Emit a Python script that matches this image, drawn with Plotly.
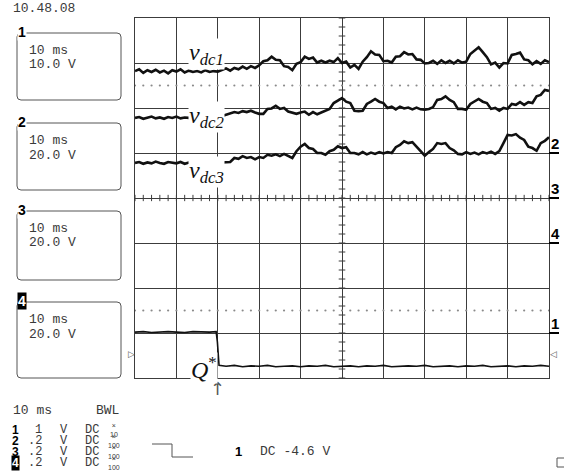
import plotly.graph_objects as go

W, H = 564, 475

# ---- acquisition data (screen divisions, 10 ms/div horizontally) ----
time_ms = list(range(0, 101))

vdc1 = [2.82, 2.86, 2.78, 2.84, 2.80, 2.85, 2.79, 2.83, 2.77, 2.84,
        2.81, 2.86, 2.79, 2.83, 2.80, 2.82, 2.79, 2.84, 2.80, 2.82,
        2.81,
        2.84, 2.88, 2.83, 2.89, 2.86, 2.92, 2.87, 2.93, 2.89, 2.95,
        3.04, 3.06, 3.14, 3.07, 3.06, 2.93, 2.91, 2.84, 2.98, 3.02,
        3.14, 3.09, 3.12, 3.01, 3.05, 3.01, 3.05, 3.02, 3.11, 3.00,
        3.03, 2.90, 2.96, 2.87, 3.03, 3.13, 3.26, 3.19, 3.18, 3.04,
        3.05, 3.01, 3.14, 3.15, 3.24, 3.19, 3.20, 3.08, 3.07, 2.99,
        3.00, 3.05, 2.98, 3.06, 3.00, 3.05, 2.99, 3.06, 3.01, 3.03,
        3.20, 3.27, 3.35, 3.24, 3.13, 2.97, 3.01, 2.90, 3.00, 2.99,
        3.18, 3.20, 3.23, 3.08, 3.06, 2.97, 3.04, 2.98, 3.06, 3.02]

vdc2 = [1.78, 1.80, 1.76, 1.79, 1.81, 1.77, 1.79, 1.76, 1.80, 1.78,
        1.81, 1.77, 1.79, 1.78, 1.80, 1.77, 1.79, 1.78, 1.80, 1.77,
        1.79,
        1.82, 1.85, 1.88, 1.91, 1.89, 1.93, 1.91, 1.94, 1.90, 1.87,
        1.87, 1.98, 1.99, 2.05, 1.98, 2.00, 1.92, 1.90, 1.87, 1.90,
        1.92, 1.85, 1.91, 1.86, 1.90, 1.95, 1.98, 2.11, 2.16, 2.22,
        2.14, 2.11, 1.94, 1.93, 1.94, 2.09, 2.14, 2.20, 2.14, 2.11,
        2.00, 2.03, 1.97, 2.03, 1.99, 2.01, 1.97, 2.01, 1.97, 1.96,
        1.98, 2.02, 2.18, 2.20, 2.26, 2.18, 2.13, 1.98, 1.98, 1.96,
        2.09, 2.14, 2.20, 2.14, 2.11, 1.98, 2.00, 1.94, 2.00, 1.98,
        2.09, 2.07, 2.13, 2.07, 2.13, 2.11, 2.26, 2.29, 2.40, 2.38]

vdc3 = [0.78, 0.80, 0.76, 0.79, 0.77, 0.81, 0.78, 0.76, 0.80, 0.78,
        0.77, 0.80, 0.76, 0.79, 0.78, 0.81, 0.77, 0.79, 0.76, 0.80,
        0.78, 0.79,
        0.80, 0.80, 0.89, 0.87, 0.93, 0.89, 0.91, 0.86, 0.91,
        0.89, 0.96, 0.94, 0.97, 0.93, 0.98, 0.94, 0.89, 1.04, 1.14,
        1.20, 1.11, 1.09, 1.00, 1.00, 0.96, 1.04, 1.07, 1.15, 1.11,
        1.13, 1.00, 1.00, 0.97, 1.02, 0.97, 1.01, 0.98, 1.02, 0.99,
        1.02, 1.00, 1.13, 1.18, 1.26, 1.22, 1.24, 1.14, 1.04, 0.94,
        1.02, 1.09, 1.22, 1.20, 1.22, 1.11, 1.06, 0.98, 0.97, 1.02,
        0.98, 1.01, 0.97, 1.02, 0.99, 1.03, 0.98, 1.04, 1.22, 1.40,
        1.39, 1.42, 1.34, 1.29, 1.14, 1.11, 1.05, 1.22, 1.27, 1.35]

q_time = [0, 2, 4, 6, 8, 10, 12, 14, 16, 18, 19.6, 19.9, 20.3,
          22, 24, 26, 28, 30, 32, 34, 36, 38, 40, 42, 44, 46, 48, 50,
          52, 54, 56, 58, 60, 62, 64, 66, 68, 70, 72, 74, 76, 78, 80,
          82, 84, 86, 88, 90, 92, 94, 96, 98, 100]
q_level = [-2.98, -2.97, -2.99, -2.98, -2.97, -2.98, -2.99, -2.97, -2.98, -2.98,
           -2.97, -3.20, -3.72,
           -3.74, -3.72, -3.75, -3.73, -3.74, -3.72, -3.75, -3.74, -3.73, -3.75,
           -3.73, -3.74, -3.72, -3.75, -3.74, -3.73, -3.75, -3.73, -3.74, -3.72,
           -3.75, -3.74, -3.73, -3.74, -3.72, -3.75, -3.74, -3.73, -3.75, -3.73,
           -3.74, -3.72, -3.75, -3.74, -3.73, -3.75, -3.73, -3.74, -3.72, -3.74]

# ---- instrument settings ----
timebase = "10 ms"
panel_channels = ["1", "2", "3", "4"]
panel_volts = ["10.0 V", "20.0 V", "20.0 V", "20.0 V"]
probe_volts = ["1", ".2", ".2", ".2"]
probe_ratio = ["10", "100", "100", "100"]
ground_div = [-3, 1, 0, -1]          # channel 1..4 ground markers
trigger_time = 20
trigger_level = -3.47
trigger_text = "DC -4.6 V"
clock_text = "10.48.08"

INK = "#3a3a3a"
GRID = "#3c3c3c"
MONO = "Liberation Mono"


def px(x):
    return x / W


def py(y):
    return 1 - y / H


fig = go.Figure()

# centre-line graduation ticks (every 0.2 div)
tx, ty = [], []
for k in range(51):
    x = 2 * k
    tx += [x, x, None]
    ty += [-0.07, 0.07, None]
for k in range(41):
    y = -4 + 0.2 * k
    tx += [49.2, 50.8, None]
    ty += [y, y, None]
fig.add_trace(go.Scatter(x=tx, y=ty, mode="lines",
                         line=dict(color=GRID, width=1), hoverinfo="skip"))

# dotted reference levels
dots = [2 * k for k in range(51)]
for lvl in (2.5, -2.5):
    fig.add_trace(go.Scatter(x=dots, y=[lvl] * len(dots), mode="markers",
                             marker=dict(color="#8a8a8a", size=2.2),
                             hoverinfo="skip"))

# waveforms
for series in (vdc1, vdc2, vdc3):
    fig.add_trace(go.Scatter(x=time_ms, y=series, mode="lines",
                             line=dict(color="#111111", width=2.6),
                             hoverinfo="skip"))
fig.add_trace(go.Scatter(x=q_time, y=q_level, mode="lines",
                         line=dict(color="#111111", width=1.6),
                         hoverinfo="skip"))

shapes = []
ann = []

# setting panels on the left
panel_tops = [33, 123, 211, 302]
panel_bottoms = [100, 190, 280, 378]
for i, ch in enumerate(panel_channels):
    x0, x1, y0, y1, r = 17, 121, panel_tops[i], panel_bottoms[i], 4
    path = (f"M {px(x0 + r)},{py(y0)} L {px(x1 - r)},{py(y0)} "
            f"Q {px(x1)},{py(y0)} {px(x1)},{py(y0 + r)} "
            f"L {px(x1)},{py(y1 - r)} Q {px(x1)},{py(y1)} {px(x1 - r)},{py(y1)} "
            f"L {px(x0 + r)},{py(y1)} Q {px(x0)},{py(y1)} {px(x0)},{py(y1 - r)} "
            f"L {px(x0)},{py(y0 + r)} Q {px(x0)},{py(y0)} {px(x0 + r)},{py(y0)} Z")
    shapes.append(dict(type="path", path=path, xref="paper", yref="paper",
                       line=dict(color="#555555", width=1)))
    inv = ch == "4"
    ann.append(dict(x=px(21.5), y=py(y0 - 1), xref="paper", yref="paper",
                    text=f"<b>{ch}</b>", showarrow=False, xanchor="center",
                    yanchor="middle", borderpad=0,
                    bgcolor="black" if inv else "white",
                    font=dict(family="Liberation Sans", size=14,
                              color="white" if inv else "black")))
    ann.append(dict(x=px(27), y=py(y0 + 17), xref="paper", yref="paper",
                    text=timebase, showarrow=False, xanchor="left",
                    yanchor="middle", font=dict(family=MONO, size=13, color=INK)))
    ann.append(dict(x=px(27), y=py(y0 + 32), xref="paper", yref="paper",
                    text=panel_volts[i], showarrow=False, xanchor="left",
                    yanchor="middle", font=dict(family=MONO, size=13, color=INK)))

# clock (partly off the top edge)
ann.append(dict(x=px(11), y=py(9), xref="paper", yref="paper", text=clock_text,
                showarrow=False, xanchor="left", yanchor="middle",
                font=dict(family=MONO, size=13, color=INK)))

# bottom settings table
ann.append(dict(x=px(11), y=py(410), xref="paper", yref="paper", text=timebase,
                showarrow=False, xanchor="left", yanchor="middle",
                font=dict(family=MONO, size=13, color=INK)))
ann.append(dict(x=px(94), y=py(410), xref="paper", yref="paper", text="BWL",
                showarrow=False, xanchor="left", yanchor="middle",
                font=dict(family=MONO, size=13, color=INK)))
row_y = [430, 441, 452, 463]
for i, ch in enumerate(panel_channels):
    yy = row_y[i]
    inv = ch == "4"
    ann.append(dict(x=px(15), y=py(yy), xref="paper", yref="paper",
                    text=f"<b>{ch}</b>", showarrow=False, xanchor="center",
                    yanchor="middle", borderpad=0,
                    bgcolor="black" if inv else "rgba(0,0,0,0)",
                    font=dict(family="Liberation Sans", size=12,
                              color="white" if inv else "black")))
    ann.append(dict(x=px(43), y=py(yy), xref="paper", yref="paper",
                    text=probe_volts[i], showarrow=False, xanchor="right",
                    yanchor="middle", borderpad=0,
                    font=dict(family=MONO, size=12, color=INK)))
    ann.append(dict(x=px(59), y=py(yy), xref="paper", yref="paper", text="V",
                    showarrow=False, xanchor="left", yanchor="middle",
                    borderpad=0, font=dict(family=MONO, size=12, color=INK)))
    ann.append(dict(x=px(84), y=py(yy), xref="paper", yref="paper", text="DC",
                    showarrow=False, xanchor="left", yanchor="middle",
                    borderpad=0, font=dict(family=MONO, size=12, color=INK)))
    ann.append(dict(x=px(114), y=py(yy), xref="paper", yref="paper",
                    text=f"×<br>{probe_ratio[i]}", showarrow=False,
                    xanchor="center", yanchor="middle", borderpad=0,
                    font=dict(family="Liberation Sans", size=7, color=INK)))

# trigger slope symbol and trigger readout
for (a, b, c, d) in [(152, 444, 172, 444), (172, 444, 172, 457), (172, 457, 193, 457)]:
    shapes.append(dict(type="line", xref="paper", yref="paper",
                       x0=px(a), y0=py(b), x1=px(c), y1=py(d),
                       line=dict(color="#555555", width=1)))
ann.append(dict(x=px(238), y=py(451), xref="paper", yref="paper", text="<b>1</b>",
                showarrow=False, xanchor="center", yanchor="middle",
                font=dict(family="Liberation Sans", size=13, color="black")))
ann.append(dict(x=px(258), y=py(451), xref="paper", yref="paper", text=trigger_text,
                showarrow=False, xanchor="left", yanchor="middle",
                font=dict(family=MONO, size=13, color=INK)))
shapes.append(dict(type="rect", xref="paper", yref="paper",
                   x0=px(557), y0=py(458), x1=px(568), y1=py(467),
                   line=dict(color="#555555", width=1)))

# trigger position arrow and trigger level markers
ann.append(dict(x=trigger_time, y=py(388), xref="x", yref="paper", text="↑",
                showarrow=False, xanchor="center", yanchor="middle",
                font=dict(family="DejaVu Sans", size=18, color="#555555")))
ann.append(dict(x=px(131), y=trigger_level, xref="paper", yref="y", text="▷",
                showarrow=False, xanchor="center", yanchor="middle",
                font=dict(family="DejaVu Sans", size=9, color="#555555")))
ann.append(dict(x=px(553), y=trigger_level, xref="paper", yref="y", text="◁",
                showarrow=False, xanchor="center", yanchor="middle",
                font=dict(family="DejaVu Sans", size=9, color="#555555")))

# channel ground markers on the right edge
for i, ch in enumerate(panel_channels):
    g = ground_div[i]
    shapes.append(dict(type="line", xref="paper", yref="y",
                       x0=px(549), x1=px(559), y0=g, y1=g,
                       line=dict(color="black", width=2)))
    ann.append(dict(x=px(555), y=g + 0.22, xref="paper", yref="y",
                    text=f"<b>{ch}</b>", showarrow=False, xanchor="center",
                    yanchor="middle",
                    font=dict(family="Liberation Sans", size=15, color="black")))

# signal names
serif = dict(family="Liberation Serif", size=24, color="#111111")
for name, yv in (("dc1", 3.2), ("dc2", 1.8), ("dc3", 0.58)):
    ann.append(dict(x=17.3, y=yv, xref="x", yref="y",
                    text=f"<i>v</i><sub><i>{name}</i></sub>", showarrow=False,
                    xanchor="center", yanchor="middle", bgcolor="white",
                    borderpad=0, font=serif))
ann.append(dict(x=16.6, y=-3.78, xref="x", yref="y",
                text="<i>Q</i><sup>*</sup>", showarrow=False,
                xanchor="center", yanchor="middle", bgcolor="white",
                borderpad=0, font=serif))

axis_common = dict(showgrid=True, gridcolor=GRID, gridwidth=1, zeroline=False,
                   showline=True, linecolor=GRID, linewidth=1, mirror=True,
                   showticklabels=False, ticks="", fixedrange=True)

fig.update_layout(
    width=W, height=H, margin=dict(l=0, r=0, t=0, b=0),
    paper_bgcolor="white", plot_bgcolor="white", showlegend=False,
    xaxis=dict(domain=[px(135), px(549)], range=[0, 100], dtick=10, **axis_common),
    yaxis=dict(domain=[py(378), py(18)], range=[-4, 4], dtick=1, **axis_common),
    shapes=shapes, annotations=ann,
)

fig.write_html("out.html", config={"displayModeBar": False})
